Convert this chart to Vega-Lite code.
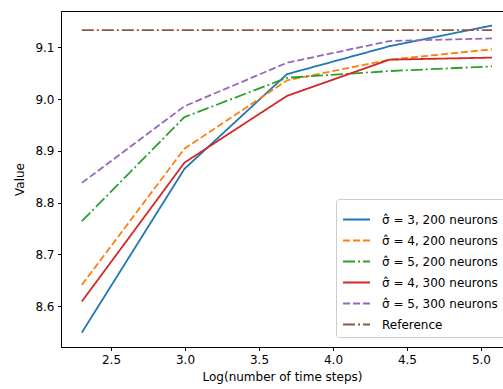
{
  "$schema": "https://vega.github.io/schema/vega-lite/v6.json",
  "width": 442,
  "height": 336,
  "autosize": {"type": "none"},
  "padding": {"left": 61, "top": 11, "right": 0, "bottom": 42},
  "config": {
    "font": "DejaVu Sans",
    "view": {"stroke": "#000000", "strokeWidth": 1},
    "axis": {
      "labelFont": "DejaVu Sans",
      "titleFont": "DejaVu Sans",
      "labelFontSize": 12,
      "titleFontSize": 12,
      "titleFontWeight": "normal",
      "labelColor": "#000000",
      "titleColor": "#000000",
      "domainColor": "#000000",
      "tickColor": "#000000",
      "tickSize": 3.5,
      "labelPadding": 3.5,
      "grid": false
    }
  },
  "data": {
    "values": [
      {"x": 2.303, "y": 8.549, "series": "σ̂ =  3, 200 neurons"},
      {"x": 2.996, "y": 8.865, "series": "σ̂ =  3, 200 neurons"},
      {"x": 3.689, "y": 9.048, "series": "σ̂ =  3, 200 neurons"},
      {"x": 4.382, "y": 9.102, "series": "σ̂ =  3, 200 neurons"},
      {"x": 5.075, "y": 9.142, "series": "σ̂ =  3, 200 neurons"},
      {"x": 2.303, "y": 8.641, "series": "σ̂ =  4, 200 neurons"},
      {"x": 2.996, "y": 8.904, "series": "σ̂ =  4, 200 neurons"},
      {"x": 3.689, "y": 9.036, "series": "σ̂ =  4, 200 neurons"},
      {"x": 4.382, "y": 9.076, "series": "σ̂ =  4, 200 neurons"},
      {"x": 5.075, "y": 9.096, "series": "σ̂ =  4, 200 neurons"},
      {"x": 2.303, "y": 8.764, "series": "σ̂ =  5, 200 neurons"},
      {"x": 2.996, "y": 8.965, "series": "σ̂ =  5, 200 neurons"},
      {"x": 3.689, "y": 9.041, "series": "σ̂ =  5, 200 neurons"},
      {"x": 4.382, "y": 9.054, "series": "σ̂ =  5, 200 neurons"},
      {"x": 5.075, "y": 9.063, "series": "σ̂ =  5, 200 neurons"},
      {"x": 2.303, "y": 8.609, "series": "σ̂ =  4, 300 neurons"},
      {"x": 2.996, "y": 8.877, "series": "σ̂ =  4, 300 neurons"},
      {"x": 3.689, "y": 9.006, "series": "σ̂ =  4, 300 neurons"},
      {"x": 4.382, "y": 9.076, "series": "σ̂ =  4, 300 neurons"},
      {"x": 5.075, "y": 9.080, "series": "σ̂ =  4, 300 neurons"},
      {"x": 2.303, "y": 8.838, "series": "σ̂ =  5, 300 neurons"},
      {"x": 2.996, "y": 8.986, "series": "σ̂ =  5, 300 neurons"},
      {"x": 3.689, "y": 9.070, "series": "σ̂ =  5, 300 neurons"},
      {"x": 4.382, "y": 9.112, "series": "σ̂ =  5, 300 neurons"},
      {"x": 5.075, "y": 9.117, "series": "σ̂ =  5, 300 neurons"},
      {"x": 2.303, "y": 9.133, "series": "Reference"},
      {"x": 5.075, "y": 9.133, "series": "Reference"}
    ]
  },
  "mark": {"type": "line", "strokeWidth": 1.8, "clip": true},
  "encoding": {
    "x": {
      "field": "x", "type": "quantitative",
      "scale": {"domain": [2.162, 5.149], "nice": false, "zero": false},
      "axis": {"values": [2.5, 3.0, 3.5, 4.0, 4.5, 5.0], "format": ".1f", "title": "Log(number of time steps)", "titlePadding": 6}
    },
    "y": {
      "field": "y", "type": "quantitative",
      "scale": {"domain": [8.521, 9.170], "nice": false, "zero": false},
      "axis": {"values": [8.6, 8.7, 8.8, 8.9, 9.0, 9.1], "format": ".1f", "title": "Value", "titlePadding": 8}
    },
    "color": {
      "field": "series", "type": "nominal",
      "scale": {
        "domain": ["σ̂ =  3, 200 neurons", "σ̂ =  4, 200 neurons", "σ̂ =  5, 200 neurons", "σ̂ =  4, 300 neurons", "σ̂ =  5, 300 neurons", "Reference"],
        "range": ["#1f77b4", "#ff7f0e", "#2ca02c", "#d62728", "#9467bd", "#8c564b"]
      },
      "legend": {
        "orient": "none", "legendX": 275, "legendY": 188,
        "title": null,
        "symbolType": "stroke", "symbolSize": 729, "symbolStrokeWidth": 1.8,
        "labelFont": "DejaVu Sans", "labelFontSize": 12, "labelColor": "#000000",
        "labelOffset": 11, "rowPadding": -1.5, "padding": 6,
        "fillColor": "rgba(255,255,255,0.8)", "strokeColor": "#cccccc", "cornerRadius": 3,
        "labelLimit": 300
      }
    },
    "strokeDash": {
      "field": "series", "type": "nominal",
      "scale": {
        "domain": ["σ̂ =  3, 200 neurons", "σ̂ =  4, 200 neurons", "σ̂ =  5, 200 neurons", "σ̂ =  4, 300 neurons", "σ̂ =  5, 300 neurons", "Reference"],
        "range": [[1, 0], [7, 3], [12, 3, 2, 3], [1, 0], [7, 3], [12, 3, 2, 3]]
      }
    }
  }
}
